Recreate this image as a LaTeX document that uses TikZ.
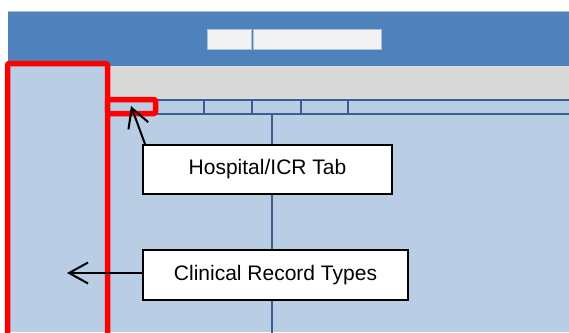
\documentclass[tikz,border=0pt]{standalone}
\usepackage{fontspec}
\setmainfont{Liberation Sans}
\usetikzlibrary{arrows.meta}

\definecolor{headblue}{HTML}{4F81BD}
\definecolor{paleblue}{HTML}{B9CDE5}
\definecolor{bandgray}{HTML}{D9D9D9}
\definecolor{tabline}{HTML}{3A5F8F}
\definecolor{fieldwhite}{HTML}{F2F2F2}
\definecolor{fieldline}{HTML}{A9C0DE}

\begin{document}
\begin{tikzpicture}[x=1pt,y=-1pt,
	callout/.style={draw=black, line width=2pt, fill=white, inner sep=0pt,
		font=\fontsize{21}{25}\selectfont},
	pointer/.style={line width=2pt, -{Straight Barb[length=19pt,width=21pt,line width=2pt]}},
	redmark/.style={draw=red, line width=5.5pt, rounded corners=2pt},
	tabrule/.style={draw=tabline, line width=2.5pt}]
	\useasboundingbox (0,0) rectangle (569,332);
	%\draw[help lines] (0,0) grid[step=50] (569,332);
	% window
	\fill[paleblue] (8,99) rectangle (569,332);
	\fill[headblue] (8,11) rectangle (569,66);
	\draw[fieldline, line width=1pt] (8,11.5) -- (569,11.5);
	\fill[bandgray] (8,66) rectangle (569,99);
	\draw[fieldline, fill=fieldwhite, line width=1pt] (207,29) rectangle (251,49);
	\draw[fieldline, fill=fieldwhite, line width=1pt] (253,29) rectangle (381,49);
	% tab row
	\draw[tabrule] (110,100) -- (569,100);
	\draw[tabrule] (110,114) -- (569,114);
	\foreach \tx in {204,252,301,348}
		\draw[tabrule] (\tx,100) -- (\tx,114);
	\draw[tabrule] (272,114) -- (272,334);
	% left panel
	\fill[paleblue] (8,61) rectangle (107.5,332);
	\draw[redmark] (7.5,345) -- (7.5,63.5) -- (107.5,63.5) -- (107.5,345);
	\draw[redmark, fill=paleblue] (107.5,99.5) rectangle (155.5,113.5);
	% callouts
	\node[callout, minimum width=249pt, minimum height=49pt] (hosp) at (267.5,169.5) {Hospital/ICR Tab};
	\node[callout, minimum width=265pt, minimum height=50pt] (clin) at (275.5,275) {Clinical Record Types};
	\coordinate (tabtip) at (131,106);
	\coordinate (paneltip) at (67,273);
	\draw[pointer] ([xshift=3pt]hosp.north west) -- (tabtip);
	\draw[pointer] ([yshift=2pt]clin.west) -- (paneltip);
\end{tikzpicture}
\end{document}
